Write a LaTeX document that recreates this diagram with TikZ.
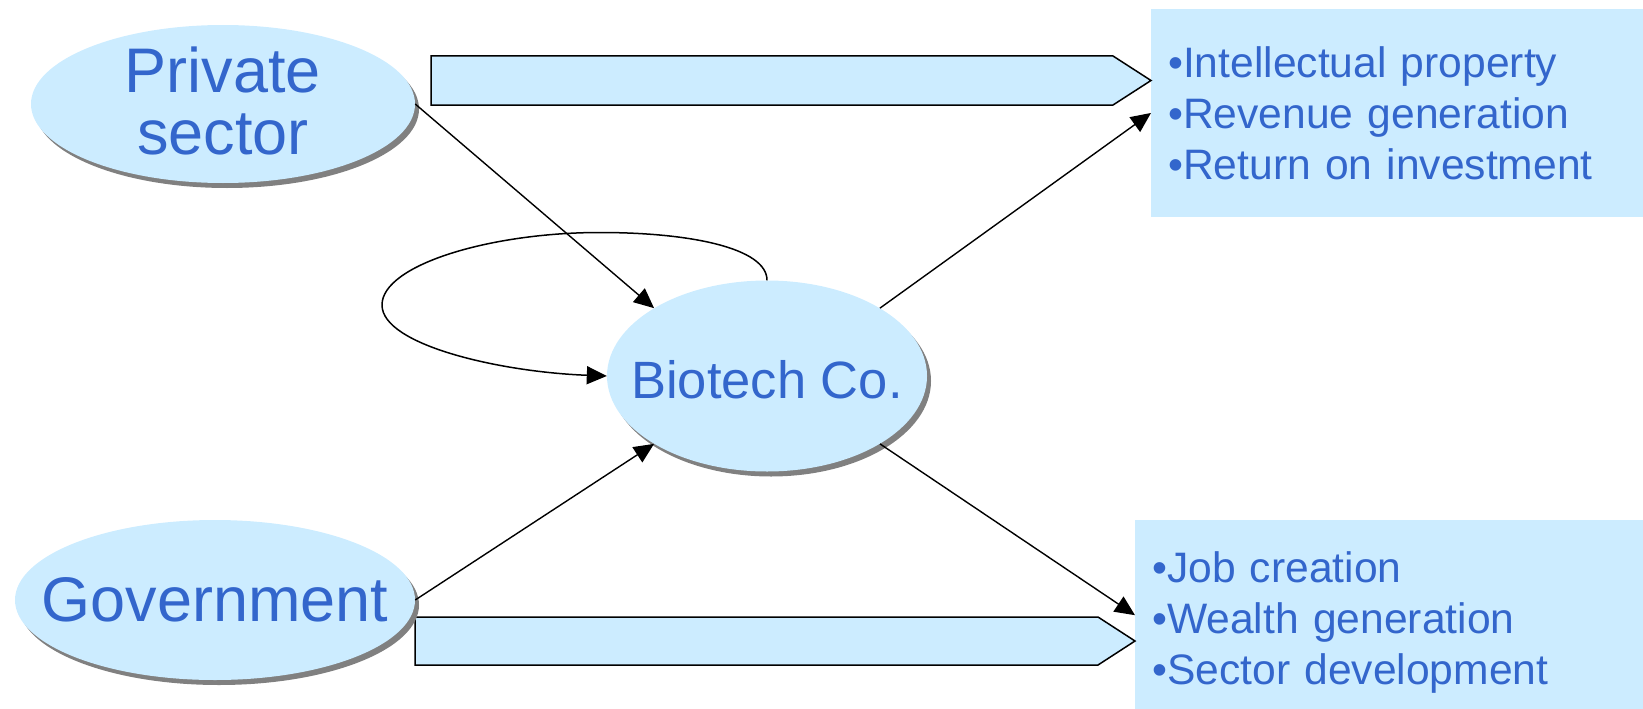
\documentclass[tikz,border=0pt]{standalone}
\usepackage{fontspec}
\setmainfont{Liberation Sans}
\usetikzlibrary{shapes.geometric,shadows,arrows.meta}
\definecolor{fillblue}{HTML}{CCECFF}
\definecolor{txtblue}{HTML}{3366CC}
\definecolor{shadowgray}{HTML}{808080}
\begin{document}
\begin{tikzpicture}[x=1pt,y=-1pt,
  actor/.style={ellipse, fill=fillblue, inner sep=-40pt, text=txtblue, align=center,
     drop shadow={shadow xshift=4pt, shadow yshift=-5pt, fill=shadowgray, opacity=1}},
  outbox/.style={rectangle, fill=fillblue, text=txtblue, align=left, inner xsep=17pt, inner ysep=0pt,
     font=\fontsize{42.6}{51}\selectfont},
  band/.style={draw=black, fill=fillblue, line width=1.5pt, line join=miter},
  link/.style={draw=black, line width=1.4pt, -{Triangle[length=20pt,width=18pt]}},
]
\useasboundingbox (0,0) rectangle (1643,709);
% output boxes
\node[outbox, text width=475pt, minimum height=208.5pt, anchor=north west] (outtop) at (1151,8.5)
  {•Intellectual property\\•Revenue generation\\•Return on investment};
\node[outbox, text width=491pt, minimum height=204pt, anchor=north west] (outbot) at (1135,520)
  {•Job creation\\•Wealth generation\\•Sector development};
% bands
\draw[band] (431,56) -- (1113,56) -- (1151,80.5) -- (1113,105) -- (431,105) -- cycle;
\draw[band] (415,617) -- (1098,617) -- (1135,641) -- (1098,665) -- (415,665) -- cycle;
% actors
\node[actor, minimum width=384pt, minimum height=158pt, font=\fontsize{63}{62}\selectfont, text depth=6pt] (priv) at (223,104) {Private\\sector};
\node[actor, minimum width=320pt, minimum height=191pt, font=\fontsize{52.5}{60}\selectfont, text height=44pt, text depth=0pt] (bio) at (767,376) {Biotech Co.};
\node[actor, minimum width=400pt, minimum height=160pt, font=\fontsize{63}{70}\selectfont] (gov) at (215,600) {Government};
% connectors
\draw[link] (priv.east) -- (bio.149);
\draw[link] (gov.east) -- (bio.211);
\draw[link] (bio.31) -- (outtop.west);
\draw[link] (bio.-31) -- ([yshift=7pt]outbot.west);
\draw[link, line width=1.5pt] (bio.north) .. controls (767,248) and (690,232.5) .. (600,232.5)
  .. controls (490,232.5) and (382,265) .. (382,305)
  .. controls (382,345) and (500,372) .. (bio.west);
\end{tikzpicture}
\end{document}
